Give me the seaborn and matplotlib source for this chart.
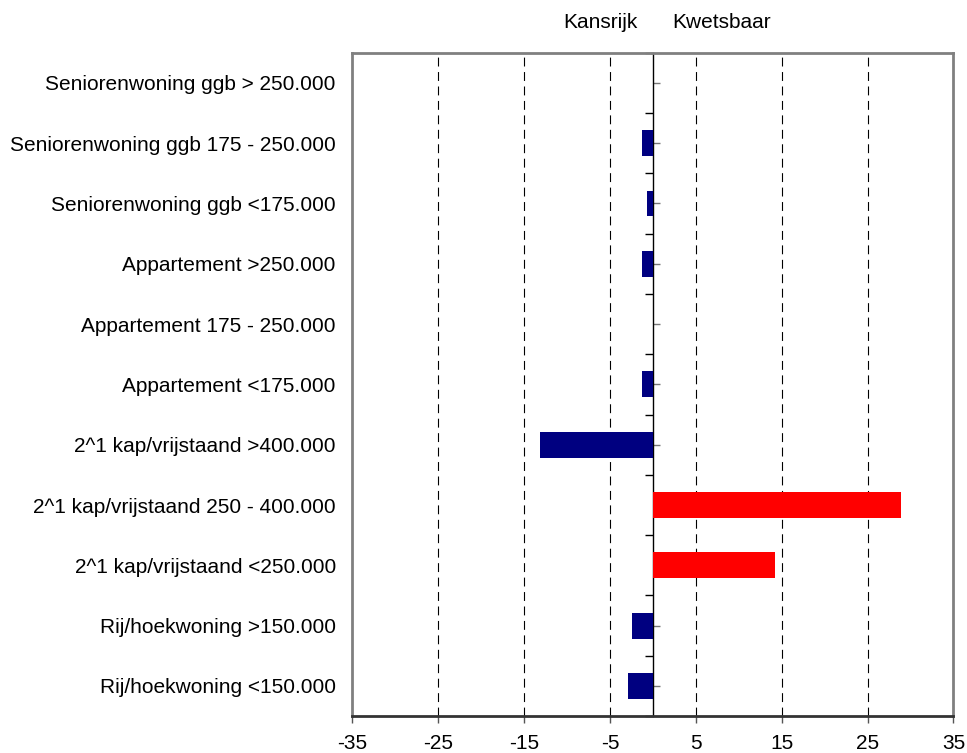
import matplotlib
matplotlib.use("Agg")
import matplotlib.pyplot as plt
import seaborn as sns
import pandas as pd
import numpy as np
from matplotlib.ticker import FixedLocator, NullFormatter

categories = [
    "Seniorenwoning ggb > 250.000",
    "Seniorenwoning ggb 175 - 250.000",
    "Seniorenwoning ggb <175.000",
    "Appartement >250.000",
    "Appartement 175 - 250.000",
    "Appartement <175.000",
    "2^1 kap/vrijstaand >400.000",
    "2^1 kap/vrijstaand 250 - 400.000",
    "2^1 kap/vrijstaand <250.000",
    "Rij/hoekwoning >150.000",
    "Rij/hoekwoning <150.000",
]
values = [0.0, -1.3, -0.7, -1.3, 0.0, -1.3, -13.1, 28.9, 14.2, -2.4, -2.9]
x_ticks = [-35, -25, -15, -5, 5, 15, 25, 35]
left_label = "Kansrijk"
right_label = "Kwetsbaar"

sns.set_style("white")
plt.rcParams['font.family'] = ['Liberation Sans', 'DejaVu Sans']
plt.rcParams['text.color'] = 'black'
plt.rcParams['xtick.labelcolor'] = 'black'
plt.rcParams['ytick.labelcolor'] = 'black'
FS = 15

df = pd.DataFrame({"cat": categories, "val": values})
df["grp"] = np.where(df["val"] > 0, "pos", "neg")

fig = plt.figure(figsize=(9.67, 7.53), dpi=100)
ax = fig.add_axes([0.3645, 0.049, 0.986 - 0.3645, 0.930 - 0.049])

sns.barplot(data=df, x="val", y="cat", hue="grp", order=categories,
            palette={"pos": "#FF0000", "neg": "#000080"}, dodge=False,
            legend=False, width=0.43, saturation=1, ax=ax, orient="h",
            linewidth=0)

ax.set_xlim(-35, 35)
ax.set_ylim(len(categories) - 0.5, -0.5)
ax.set_xticks(x_ticks)
ax.set_xticklabels([str(t) for t in x_ticks], fontsize=FS)
ax.set_xlabel("")
ax.set_ylabel("")
ax.tick_params(axis="y", length=0, pad=12, labelsize=FS, labelcolor="black")
ax.tick_params(axis="x", direction="out", length=5, width=1, color="#555555",
               bottom=True, pad=8, labelcolor="black")

for t in x_ticks[1:-1]:
    ax.axvline(t, color="black", lw=0.8, ls=(0, (8, 5)), zorder=0)

for side in ["left", "right", "top"]:
    ax.spines[side].set_color("#808080")
    ax.spines[side].set_linewidth(2)
    ax.spines[side].set_visible(True)
ax.spines["bottom"].set_color("#333333")
ax.spines["bottom"].set_linewidth(2)
ax.spines["bottom"].set_visible(True)

# zero axis with category ticks
sec = ax.secondary_yaxis(0.5)
for sp in sec.spines.values():
    sp.set_color("black")
    sp.set_linewidth(1)
sec.yaxis.set_major_locator(FixedLocator(list(range(len(categories)))))
sec.yaxis.set_minor_locator(FixedLocator([i + 0.5 for i in range(-1, len(categories))]))
sec.yaxis.set_major_formatter(NullFormatter())
sec.yaxis.set_minor_formatter(NullFormatter())
sec.tick_params(axis="y", which="major", direction="out", length=5, width=1,
                color="#777777")
sec.tick_params(axis="y", which="minor", direction="in", length=6, width=1,
                color="black")

ax.text(-1.8, 1.046, left_label, transform=ax.get_xaxis_transform(),
        ha="right", va="center", fontsize=FS, color="black")
ax.text(2.3, 1.046, right_label, transform=ax.get_xaxis_transform(),
        ha="left", va="center", fontsize=FS, color="black")

fig.savefig("out.png", dpi=100)
